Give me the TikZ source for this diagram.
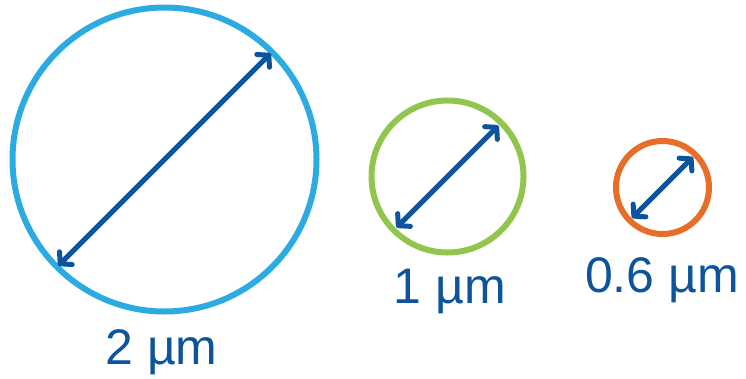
\documentclass[tikz,border=0pt]{standalone}
\usepackage{fontspec}
\setmainfont{Liberation Sans}
\usetikzlibrary{arrows.meta}
\definecolor{ringblue}{RGB}{43,171,226}
\definecolor{ringgreen}{RGB}{144,198,78}
\definecolor{ringorange}{RGB}{230,110,40}
\definecolor{darkblue}{RGB}{14,84,156}
\tikzset{
  ring/.style={circle, draw=#1, line width=6pt, inner sep=0pt, outer sep=0pt},
  diam/.style={draw=darkblue, line width=5pt, line cap=round,
    {Straight Barb[length=8pt, width=18pt, line cap=round, line join=round]}-{Straight Barb[length=8pt, width=18pt, line cap=round, line join=round]}},
  sizelabel/.style={text=darkblue, anchor=base, inner sep=0pt, font=\fontsize{50}{60}\selectfont}
}
\begin{document}
\begin{tikzpicture}[x=1pt, y=-1pt]
\useasboundingbox (0,0) rectangle (746,378);
\node[ring=ringblue, minimum size=304pt] (big) at (164.5,159.5) {};
\node[ring=ringgreen, minimum size=152pt] (mid) at (447.5,176.5) {};
\node[ring=ringorange, minimum size=93pt] (small) at (662.5,187.5) {};
\draw[diam, shorten >=2pt, shorten <=2pt] (big.225) -- (big.45);
\draw[diam, shorten >=4pt, shorten <=4pt] (mid.225) -- (mid.45);
\draw[diam, shorten >=3.5pt, shorten <=3.5pt] (small.225) -- (small.45);
\node[sizelabel] (lbig) at (161.5,364) {2 µm};
\node[sizelabel] (lmid) at (450,303) {1 µm};
\node[sizelabel] (lsmall) at (662,292) {0.6 µm};
\end{tikzpicture}
\end{document}
